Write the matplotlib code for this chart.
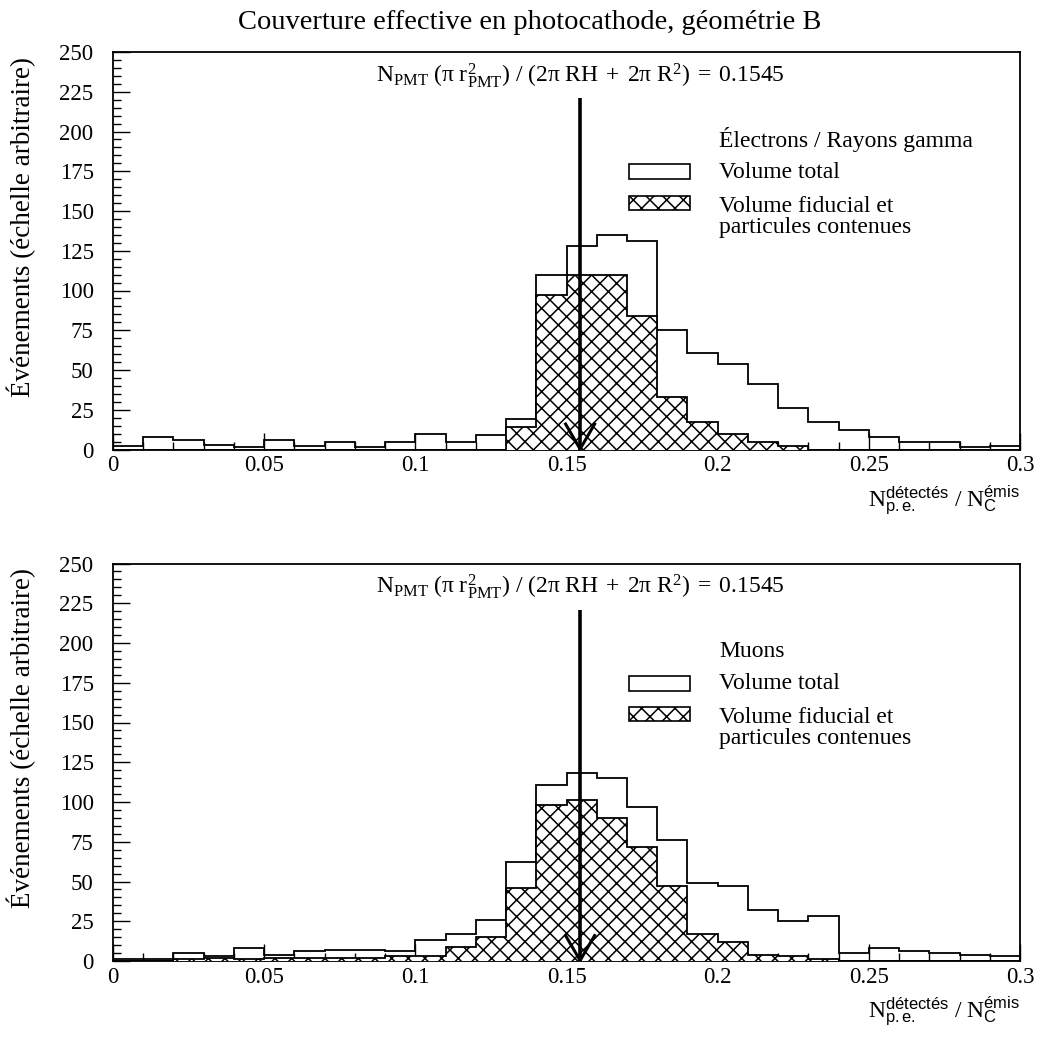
import numpy as np
import matplotlib
matplotlib.use("Agg")
import matplotlib.pyplot as plt
from matplotlib.patches import Rectangle
from matplotlib.ticker import MultipleLocator

plt.rcParams['font.family'] = ['Liberation Serif', 'DejaVu Serif']
plt.rcParams['mathtext.fontset'] = 'custom'
plt.rcParams['mathtext.rm'] = 'Liberation Serif'
plt.rcParams['mathtext.it'] = 'Liberation Serif:italic'
plt.rcParams['mathtext.sf'] = 'Liberation Sans'
plt.rcParams['hatch.linewidth'] = 1.1

# ---------------- data ----------------
bin_edges = np.linspace(0.0, 0.3, 31)

# Electrons / gamma rays
total_e = [2, 8, 6, 3, 1.5, 6, 2, 5, 1.5, 4.5, 10, 4.5, 9, 19, 110,
           128, 135, 131, 75, 61, 54, 41, 26, 17, 12.5, 8, 5, 4.5, 1.5, 2]
fid_e = [0, 0, 0, 0, 0, 0, 0, 0, 0, 0, 0, 0, 0, 14, 97,
         110, 110, 84, 33, 17, 9.5, 4.8, 2.4, 0, 0, 0, 0, 0, 0, 0]

# Muons
total_mu = [1, 1, 5, 3, 8, 4, 6, 7, 7, 6, 13, 17, 26, 62, 111,
            118, 115, 97, 76, 49, 47, 32, 25, 28, 5, 8, 6, 5, 4, 3]
fid_mu = [0, 0, 1, 2, 1, 2, 2, 2, 2, 3, 3, 9, 15, 46, 98,
          101, 90, 72, 47, 17, 12, 4, 3, 1, 0, 0, 0, 0, 0, 0]

theory_value = 0.1545
title = "Couverture effective en photocathode, géométrie B"
ylabel = "Événements (échelle arbitraire)"
panel_titles = ["Électrons / Rayons gamma", "Muons"]
legend_labels = ["Volume total", "Volume fiducial et\nparticules contenues"]
formula = (r'$\mathrm{N_{PMT}\ (\pi\ r^{2}_{PMT})\ /\ (2\pi\ RH\;+\;2\pi\ R^{2})\;=\;0.1545}$')
xlabel = r'$\mathrm{N}^{\mathsf{détectés}}_{\mathsf{p.e.}}\ \mathrm{/}\ \mathrm{N}^{\mathsf{émis}}_{\mathsf{C}}$'

# ---------------- figure ----------------
fig = plt.figure(figsize=(10.38, 10.38), dpi=100)
W = H = 1038.0
ax_left, ax_right = 113 / W, 1020 / W
ax_h = 397.5 / H
axes_bottoms = [1 - 449.5 / H, 1 - 961 / H]

fig.text(0.51, 0.978, title, ha='center', va='center', fontsize=20.5)

lw = 1.3
for i, (tot, fid) in enumerate([(total_e, fid_e), (total_mu, fid_mu)]):
    ax = fig.add_axes([ax_left, axes_bottoms[i], ax_right - ax_left, ax_h])
    ax.stairs(tot, bin_edges, baseline=0, fill=False, edgecolor='black', linewidth=lw, zorder=2)
    ax.stairs(fid, bin_edges, baseline=0, fill=True, facecolor='white',
              edgecolor='black', hatch='xx', linewidth=lw, zorder=3)

    # arrow at theoretical value
    ax.plot([theory_value, theory_value], [0, 221], color='black', lw=2.6, zorder=5,
            solid_capstyle='butt')
    ax.plot([theory_value - 0.0048, theory_value, theory_value + 0.0048], [16, 0.3, 16],
            color='black', lw=2.2, zorder=5)

    ax.text(theory_value, 235.5, formula, ha='center', va='center', fontsize=17, zorder=6)

    ax.set_xlim(0, 0.3)
    ax.set_ylim(0, 250)
    ax.xaxis.set_major_locator(MultipleLocator(0.05))
    ax.xaxis.set_minor_locator(MultipleLocator(0.01))
    ax.yaxis.set_major_locator(MultipleLocator(25))
    ax.yaxis.set_minor_locator(MultipleLocator(5))
    ax.set_xticks([0, 0.05, 0.1, 0.15, 0.2, 0.25, 0.3])
    ax.set_xticklabels(['0', '0.05', '0.1', '0.15', '0.2', '0.25', '0.3'])
    ax.tick_params(axis='both', which='both', direction='in', top=False, right=False,
                   labelsize=16.5, width=1.0)
    ax.tick_params(axis='x', which='major', length=12, pad=4)
    ax.tick_params(axis='x', which='minor', length=5.5)
    ax.tick_params(axis='y', which='major', length=12, pad=14)
    ax.tick_params(axis='y', which='minor', length=5.5)
    for sp in ax.spines.values():
        sp.set_linewidth(1.3)

    # legend
    ax.text(0.668, 0.779, panel_titles[i], transform=ax.transAxes, ha='left', va='center',
            fontsize=17)
    ax.add_patch(Rectangle((0.569, 0.680), 0.067, 0.038, transform=ax.transAxes,
                           facecolor='white', edgecolor='black', lw=1.2))
    ax.text(0.668, 0.698, legend_labels[0], transform=ax.transAxes, ha='left', va='center',
            fontsize=17)
    ax.add_patch(Rectangle((0.569, 0.603), 0.067, 0.035, transform=ax.transAxes,
                           facecolor='white', edgecolor='black', hatch='xx', lw=1.2))
    ax.text(0.668, 0.638, legend_labels[1], transform=ax.transAxes, ha='left', va='top',
            fontsize=17, linespacing=1.0)

    ax.text(1.0, -0.127, xlabel, transform=ax.transAxes, ha='right', va='center', fontsize=17)

    yl_center = axes_bottoms[i] + ax_h * 0.56
    fig.text(0.021, yl_center, ylabel, rotation=90, ha='center', va='center', fontsize=19.5)

fig.savefig('out.png', dpi=100)
